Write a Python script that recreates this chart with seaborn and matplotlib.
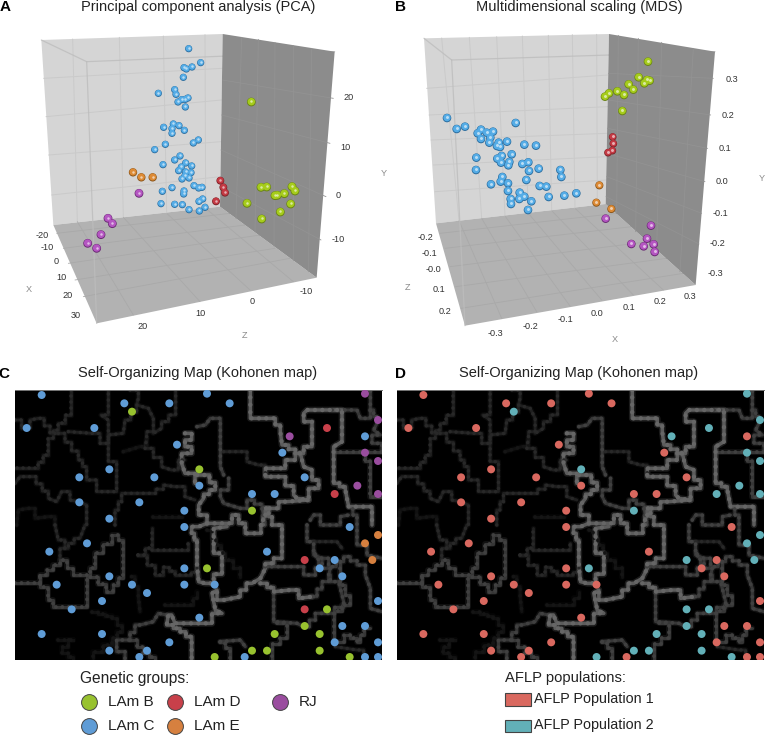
import matplotlib
matplotlib.use("Agg")
import matplotlib.pyplot as plt
from matplotlib.patches import Polygon, Rectangle
import pandas as pd
import seaborn as sns

# Panel A, PCA, spheres
pca_c = [(566,146),(602,188),(552,203),(559,207),(576,201),(550,232),(475,280),(524,269),(528,283),(534,306),
         (545,299),(556,298),(564,294),(556,321),(491,382),(520,372),(537,377),(516,386),(553,391),(516,400),
         (595,420),(580,429),(496,433),(464,449),(540,468),(524,480),(489,494),(557,489),(575,498),(544,501),
         (536,512),(557,516),(573,518),(555,527),(567,534),(546,537),(582,557),(596,564),(606,562),(516,563),
         (487,574),(552,573),(551,582),(608,597),(597,604),(483,611),(524,613),(547,614),(567,629),(598,633),(615,622)]
pca_b = [(754,306),(783,562),(800,561),(876,560),(885,573),(825,587),(832,586),(853,581),(741,610),(872,612),(841,636),(785,657)]
pca_d = [(661,542),(670,562),(675,578),(648,604)]
pca_e = [(399,517),(424,532),(458,532)]
pca_rj = [(417,580),(324,655),(337,671),(303,704),(263,730),(290,745)]

# Panel B, MDS
mds_c = [(186,354),(215,387),(240,380),(392,369),(288,389),(278,400),(305,398),(324,395),(316,413),(288,417),
         (313,428),(341,428),(366,425),(336,438),(345,441),(418,434),(453,437),(380,463),(350,468),(274,473),
         (337,476),(373,486),(348,488),(370,496),(412,492),(430,487),(273,510),(432,513),(461,506),(526,510),
         (529,531),(352,531),(347,545),(424,540),(318,553),(369,550),(464,558),(484,560),(369,573),(404,578),
         (418,590),(403,597),(377,597),(439,604),(378,612),(491,591),(538,587),(574,580),(429,630)]
mds_b = [(789,185),(761,232),(786,240),(794,242),(778,250),(731,253),(745,269),(697,274),(717,285),(672,280),(660,290),(712,333)]
mds_d = [(683,411),(685,431),(682,452),(669,458)]
mds_e = [(643,556),(634,608),(679,627)]
mds_rj = [(662,656),(798,677),(786,716),(739,732),(806,733),(776,739),(809,756)]

# Panels C and D share the same map nodes
som_c = [(125,105),(373,130),(508,130),(621,101),(689,130),(80,204),(283,204),(531,254),(847,278),(1095,229),
         (328,328),(238,352),(463,352),(914,352),(598,377),(756,402),(824,402),(238,427),(418,427),(553,452),
         (328,476),(553,501),(1049,501),(261,550),(148,575),(801,575),(1004,600),(553,625),(959,625),(328,649),
         (1027,649),(170,674),(396,674),(553,674),(644,674),(441,699),(306,723),(1134,723),(215,748),(598,773),
         (1027,798),(1095,798),(125,822),(306,822),(1004,847),(508,847),(1134,847),(328,872),(441,872),(418,891),
         (734,891),(1095,891),(1134,891)]
som_b = [(396,155),(598,328),(756,452),(621,625),(981,748),(914,798),(824,822),(959,822),(756,872),(801,872),
         (959,872),(644,891),(1049,891)]
som_d = [(981,204),(1004,402),(914,600),(914,748)]
som_e = [(1134,525),(1095,550),(1117,600)]
som_rj = [(1095,101),(1134,180),(869,229),(1095,278),(1134,303),(1072,377),(1134,402)]

# U-matrix ridges of the Kohonen map
ridges_bright = [
    [(751,90),(751,175),(811,175),(841,215),(846,255),(886,280),(911,260),(936,240),(936,185),(911,160),(921,150),(996,150),(1026,180),(1026,245),(1001,260),(1001,370),(1036,390),(1046,440),(1116,440),(1116,495)],
    [(886,280),(886,300),(856,325),(796,325),(796,350),(831,350),(881,405),(891,415),(926,420),(861,425),(836,445),(796,445)],
    [(901,280),(911,320),(936,330),(936,360),(956,385),(926,420)],
    [(591,345),(611,345),(646,390),(611,415),(596,435),(596,465),(621,490),(676,490),(696,465),(716,490),(736,520),(776,520),(796,445),(816,495),(846,515),(846,595),(796,625),(781,655),(756,670),(721,710),(671,720),(651,690),(636,700),(646,750),(666,760),(636,790),(591,790),(525,790),(515,765),(505,765),(500,795),(540,815),(575,845),(575,900)],
    [(621,490),(596,500),(575,520),(591,560),(591,620),(596,665),(616,670),(666,615),(666,580),(641,560),(641,505),(681,500)],
    [(781,670),(821,695),(871,690),(896,715),(936,710)],
    [(555,220),(575,240),(555,260),(575,280),(545,310),(555,340),(585,370)],
]
ridges_mid = [
    [(591,200),(616,195),(631,175),(661,210),(661,320),(671,345)],
    [(996,150),(1071,150),(1081,175),(1111,150),(1111,90)],
    [(1111,150),(1131,190),(1121,210),(1141,225),(1116,250),(1146,275)],
    [(1001,275),(1081,275),(1111,330),(1111,410),(1146,410)],
    [(1086,275),(1146,275)],
    [(796,620),(891,620),(911,645),(936,645),(956,600),(941,575)],
    [(936,710),(966,665),(986,645),(991,625),(966,595)],
    [(821,700),(821,785),(891,790),(911,800),(946,760),(976,760),(1031,725),(1016,665),(991,645)],
    [(831,790),(861,815),(861,835),(816,870),(816,900)],
    [(661,845),(721,840),(736,860)],
    [(661,845),(691,885),(691,900)],
    [(500,765),(475,760),(460,785),(420,795),(390,840),(350,840),(350,875),(375,900)],
    [(390,840),(430,880),(465,900)],
    [(45,670),(95,670),(120,645),(180,600),(220,645),(255,645),(285,605),(285,580),(335,525),(370,555),(370,655),(340,695),(295,650),(260,650),(260,740),(175,740),(145,700),(145,680),(120,650)],
    [(686,355),(686,390),(661,410),(671,430),(721,445),(741,420),(786,445),(796,495)],
    [(921,495),(921,545),(941,570),(941,585),(966,595),(986,620),(1031,590),(1071,615),(1096,645),(1111,685),(1111,745),(1146,755)],
    [(1021,605),(1021,675),(1051,735),(1001,770),(1001,845),(1031,845),(1031,825),(1071,845),(1091,805),(1111,805)],
    [(931,480),(941,465),(961,495),(1021,495),(1021,470),(1046,465)],
    [(1046,440),(1071,490),(1071,555),(1101,585),(1146,595)],
]
ridges_dim = [
    [(213,90),(213,165),(175,210),(145,260),(145,285),(115,325),(45,325)],
    [(45,180),(65,205),(90,180),(115,175),(150,220),(175,220)],
    [(175,220),(235,300),(260,340),(260,360),(290,395),(320,395),(350,365),(350,305),(325,280),(325,180),(303,165),(325,140),(325,90)],
    [(205,215),(275,220),(300,250),(325,225),(370,220),(375,180),(410,135),(445,145),(460,175),(460,215),(440,235),(435,265),(485,320),(515,330),(535,300),(555,300)],
    [(390,90),(415,115),(410,135)],
    [(527,90),(527,165),(485,205),(460,220)],
    [(45,370),(60,350),(90,350),(145,415),(170,425),(185,395),(210,420),(235,425),(260,435),(260,495),(255,495),(240,535),(205,565),(180,600)],
    [(165,495),(175,540),(195,565)],
    [(345,495),(345,450),(365,400),(445,400),(490,375),(525,380),(555,410),(585,420)],
    [(415,585),(455,545),(455,505)],
    [(415,585),(465,645),(490,620),(525,645),(555,645),(590,625)],
    [(455,570),(545,570),(565,550)],
    [(671,275),(721,275),(741,305),(776,315),(796,350)],
    [(1006,860),(1071,870),(1091,900)],
    [(941,545),(1011,545),(1026,565)],
]
ridges_faint = [
    [(50,495),(55,450),(85,445),(105,475),(145,470),(165,495)],
    [(370,275),(420,260),(440,235)],
    [(460,470),(545,470)],
    [(395,650),(415,710),(420,755)],
    [(495,735),(565,735),(590,695)],
    [(275,755),(335,775),(365,815),(335,855),(280,895)],
    [(175,840),(220,840),(185,880),(220,900)],
    [(621,510),(676,600),(720,650)],
]

# axis ticks of the 3D boxes
pca_x_ticks = [("-20",126,705),("-10",142,743),("0",170,785),("10",183,832),("20",204,885),("30",228,945)]
pca_z_ticks = [("20",428,980),("10",602,942),("0",756,906),("-10",918,875)]
pca_y_ticks = [("20",1047,293),("10",1035,442),("0",1016,585),("-10",1014,720)]
mds_x_ticks = [("-0.3",331,1000),("-0.2",437,979),("-0.1",541,960),("0.0",637,942),("0.1",732,924),("0.2",824,905),("0.3",914,889)]
mds_z_ticks = [("-0.2",121,714),("-0.1",132,759),("-0.0",145,810),("0.1",163,870),("0.2",179,936)]
mds_y_ticks = [("0.3",1040,238),("0.2",1030,345),("0.1",1021,445),("0.0",1011,545),("-0.1",1005,640),("-0.2",997,732),("-0.3",990,821)]

groups = ["LAm B", "LAm C", "LAm D", "LAm E", "RJ"]
group_colors = {"LAm B": "#98c22f", "LAm C": "#5f9cd6", "LAm D": "#c8404a", "LAm E": "#d6803f", "RJ": "#9a4d9f"}
pop_colors = {"LAm B": "#62b0b8", "LAm C": "#d9685f", "LAm D": "#62b0b8", "LAm E": "#62b0b8", "RJ": "#62b0b8"}
sphere_main = {"LAm B": "#a6cc1c", "LAm C": "#55ace6", "LAm D": "#c43a44", "LAm E": "#dd8a34", "RJ": "#b556c2"}
sphere_rim = {"LAm B": "#6a8414", "LAm C": "#2a6c9e", "LAm D": "#7a2026", "LAm E": "#8a5418", "RJ": "#6a2a74"}


def to_frame(b, c, d, e, rj):
    rows = []
    for name, pts in zip(groups, [b, c, d, e, rj]):
        rows += [(x, y, name) for x, y in pts]
    return pd.DataFrame(rows, columns=["x", "y", "group"])


def spheres(ax, df, blue_size, big_size):
    # three stacked scatters give the shaded ball look
    sizes = {g: big_size for g in groups}
    sizes["LAm C"] = blue_size
    sizes["LAm D"] = big_size * 0.8
    sizes["LAm E"] = big_size * 0.9
    sns.scatterplot(data=df, x="x", y="y", hue="group", palette=sphere_rim, size="group", sizes=sizes,
                    linewidth=0, legend=False, ax=ax, zorder=5)
    sns.scatterplot(data=df.assign(y=df.y - 1.0), x="x", y="y", hue="group", palette=sphere_main,
                    size="group", sizes={k: v * 0.72 for k, v in sizes.items()},
                    linewidth=0, legend=False, ax=ax, zorder=6)
    sns.scatterplot(data=df.assign(y=df.y - 2.5), x="x", y="y", color="white", alpha=0.6,
                    s=blue_size * 0.12, linewidth=0, legend=False, ax=ax, zorder=7)


def box(ax, back_l, back_r, front_b, floor_l, near_top, right_top, wall_grid, side_grid, floor_grid):
    ax.add_patch(Polygon([back_l, back_r, front_b[0], floor_l], fc="#d5d5d5", ec="none", zorder=1))
    ax.add_patch(Polygon([floor_l, front_b[0], front_b[1], front_b[2]], fc="#b2b2b2", ec="none", zorder=1))
    for seg in wall_grid:
        ax.plot(*zip(*seg), color="#cacaca", lw=0.7, zorder=2)
    for seg in floor_grid:
        ax.plot(*zip(*seg), color="#a9a9a9", lw=0.6, zorder=2)
    # front edges of the box, almost see-through
    for seg in [[back_l, near_top], [near_top, right_top], [near_top, front_b[2]]]:
        ax.plot(*zip(*seg), color="#bdbdbd", lw=0.9, alpha=0.8, zorder=3)
    # the right wall covers the near edge
    ax.add_patch(Polygon([back_r, right_top, front_b[1], front_b[0]], fc="#8c8c8c", ec="none", zorder=3.5))
    for seg in side_grid:
        ax.plot(*zip(*seg), color="#939393", lw=0.6, zorder=4)


def stairs(pts):
    # ridges run along the map cells, so diagonals come out stepped
    out = [pts[0]]
    for (x0, y0), (x1, y1) in zip(pts, pts[1:]):
        dx, dy = x1 - x0, y1 - y0
        if abs(dx) > 15 and abs(dy) > 15:
            n = max(1, round(max(abs(dx) / 22, abs(dy) / 25)))
            for i in range(n):
                out.append((x0 + dx * (i + 1) / n, y0 + dy * i / n))
                out.append((x0 + dx * (i + 1) / n, y0 + dy * (i + 1) / n))
        else:
            out.append((x1, y1))
    return out


def map_panel(ax, colors):
    ax.set_facecolor("black")
    for lines, col, lw, dot in [(ridges_faint, "#111111", 2.8, "#151515"), (ridges_dim, "#1f1f1f", 2.6, "#282828"),
                                (ridges_mid, "#363636", 2.8, "#404040"), (ridges_bright, "#5c5c5c", 3.2, "#666666")]:
        for pts in lines:
            xs, ys = zip(*stairs(pts))
            ax.plot(xs, ys, color=col, lw=lw * 1.5, alpha=0.3, solid_joinstyle="round", zorder=1)
            ax.plot(xs, ys, color=col, lw=lw * 0.8, solid_joinstyle="round", zorder=1)
            ax.plot(xs, ys, color=dot, lw=lw, ls=(0, (0.01, 1.65)), dash_capstyle="round", zorder=2)
    sns.scatterplot(data=som, x="x", y="y", hue="group", palette=colors, s=33, linewidth=0, legend=False, ax=ax, zorder=5)
    ax.set_xlim(45, 1146)
    ax.set_ylim(900, 90)
    ax.set_xticks([])
    ax.set_yticks([])
    ax.set_xlabel("")
    ax.set_ylabel("")
    for name, spine in ax.spines.items():
        spine.set_visible(name == "top")
    ax.spines["top"].set_color("#777777")
    ax.spines["top"].set_linewidth(0.7)


def labels3d(ax, ticks, name, nx, ny):
    for txt, x, y in ticks:
        ax.text(x, y, txt, fontsize=TICK_FS, color="#333333", ha="center", va="center", zorder=8)
    ax.text(nx, ny, name, fontsize=TICK_FS, color="#8a8a8a", ha="center", va="center", zorder=8)


sns.set_theme(style="white")
plt.rcParams["font.family"] = ["Liberation Sans", "DejaVu Sans"]
TICK_FS = 6.6
W, H = 765, 735

fig = plt.figure(figsize=(W / 100, H / 100), dpi=100)


def px_axes(left, top, right, bottom):
    return fig.add_axes([left / W, 1 - bottom / H, (right - left) / W, (bottom - top) / H])


som = to_frame(som_b, som_c, som_d, som_e, som_rj)

# A
ax_a = px_axes(0, 0, 385, 350)
ax_a.set_xlim(0, 1155)
ax_a.set_ylim(1050, 0)
box(ax_a, (124, 120), (668, 102), [(660, 620), (950, 833), (290, 970)], (160, 675), (260, 185), (1004, 155),
    [[(218, 117), (232, 665)], [(358, 112), (370, 652)], [(490, 108), (500, 640)], [(615, 104), (617, 625)],
     [(131, 235), (666, 205)], [(138, 350), (664, 300)], [(146, 465), (663, 425)], [(155, 585), (661, 530)]],
    [[(725, 112), (708, 655)], [(775, 118), (765, 695)], [(825, 127), (822, 738)], [(880, 136), (880, 780)], [(935, 145), (925, 815)],
     [(667, 240), (1000, 295)], [(665, 345), (990, 430)], [(663, 450), (978, 590)], [(662, 560), (963, 720)]],
    [[(232, 665), (400, 945)], [(370, 652), (600, 905)], [(500, 640), (750, 870)], [(617, 625), (880, 845)],
     [(170, 700), (690, 640)], [(190, 745), (735, 675)], [(205, 790), (780, 705)], [(225, 840), (825, 745)], [(250, 890), (870, 775)]])
spheres(ax_a, to_frame(pca_b, pca_c, pca_d, pca_e, pca_rj), 27, 40)
labels3d(ax_a, pca_x_ticks, "X", 88, 870)
labels3d(ax_a, pca_z_ticks, "Z", 735, 1007)
labels3d(ax_a, pca_y_ticks, "Y", 1152, 520)

# B
ax_b = px_axes(385, 0, 765, 350)
ax_b.set_xlim(0, 1140)
ax_b.set_ylim(1050, 0)
box(ax_b, (117, 115), (672, 102), [(662, 612), (932, 855), (240, 977)], (153, 670), (200, 180), (990, 155),
    [[(170, 114), (222, 662)], [(253, 112), (290, 655)], [(335, 110), (360, 648)], [(412, 108), (430, 640)], [(490, 106), (500, 632)], [(562, 104), (570, 625)], [(635, 103), (637, 615)],
     [(125, 265), (668, 225)], [(132, 345), (667, 320)], [(138, 420), (666, 400)], [(145, 495), (665, 470)], [(150, 575), (663, 540)]],
    [[(700, 106), (695, 640)], [(760, 115), (752, 695)], [(830, 127), (815, 750)], [(925, 145), (885, 815)],
     [(670, 220), (985, 235)], [(669, 300), (977, 345)], [(667, 385), (968, 445)], [(666, 460), (960, 545)], [(665, 530), (950, 640)], [(663, 590), (942, 732)]],
    [[(222, 662), (350, 955)], [(290, 655), (455, 935)], [(360, 648), (555, 918)], [(430, 640), (650, 900)], [(500, 632), (745, 885)], [(570, 625), (835, 870)],
     [(165, 700), (695, 640)], [(180, 745), (740, 680)], [(195, 800), (790, 725)], [(212, 860), (845, 775)], [(228, 925), (895, 820)]])
spheres(ax_b, to_frame(mds_b, mds_c, mds_d, mds_e, mds_rj), 38, 38)
labels3d(ax_b, mds_x_ticks, "X", 690, 1020)
labels3d(ax_b, mds_z_ticks, "Z", 67, 862)
labels3d(ax_b, mds_y_ticks, "Y", 1132, 535)

for ax in (ax_a, ax_b):
    ax.axis("off")

# C and D
ax_c = px_axes(15, 390, 382, 660)
map_panel(ax_c, group_colors)
ax_d = px_axes(396.7, 390, 764, 660)
map_panel(ax_d, pop_colors)

# titles, panel letters and legends in figure pixels
over = fig.add_axes([0, 0, 1, 1], facecolor="none")
over.set_xlim(0, W)
over.set_ylim(H, 0)
over.axis("off")
TITLE_FS = 10.55
for txt, x, y in [("Principal component analysis (PCA)", 198, 7), ("Multidimensional scaling (MDS)", 579, 7),
                  ("Self-Organizing Map (Kohonen map)", 198, 373), ("Self-Organizing Map (Kohonen map)", 579, 373)]:
    over.text(x, y, txt, fontsize=TITLE_FS, color="#222222", ha="center", va="center")
for txt, x, y in [("A", 5, 7), ("B", 401, 7), ("C", 4, 374), ("D", 401, 374)]:
    over.text(x, y, txt, fontsize=11, fontweight="bold", color="black", ha="center", va="center")

over.text(80, 678, "Genetic groups:", fontsize=11.2, color="#222222", va="center")
legend_slots = {"LAm B": (89, 701.5), "LAm C": (89, 726), "LAm D": (175, 701.5), "LAm E": (175, 726), "RJ": (280, 701.5)}
for name in groups:
    x, y = legend_slots[name]
    over.scatter([x], [y], s=130, color=group_colors[name], edgecolor="#444444", linewidth=0.7)
    over.text(x + 19, y, name, fontsize=11, color="#222222", va="center")

over.text(505, 678, "AFLP populations:", fontsize=10.6, color="#222222", va="center")
for txt, col, y in [("AFLP Population 1", "#d9685f", 693), ("AFLP Population 2", "#62b0b8", 719.5)]:
    over.add_patch(Rectangle((505, y), 26, 12.5, fc=col, ec="#444444", lw=0.8))
    over.text(534, y + 6, txt, fontsize=10.4, color="#222222", va="center")

fig.savefig("out.png", dpi=100)
